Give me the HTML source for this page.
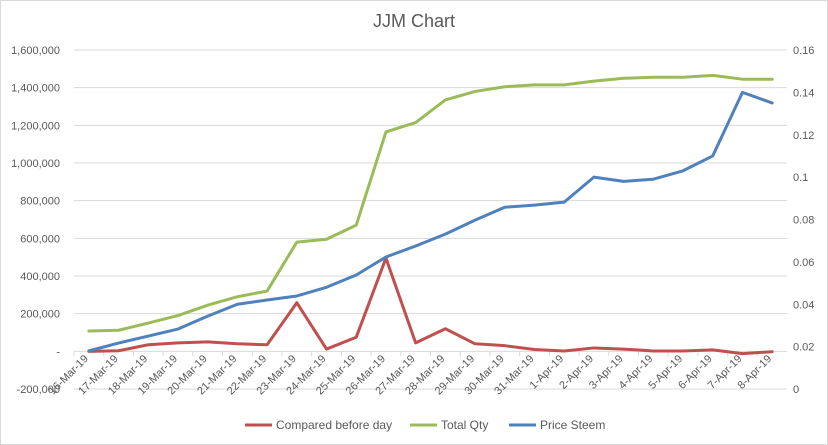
<!DOCTYPE html>
<html><head><meta charset="utf-8"><style>
body{margin:0;background:#fff;}
svg{display:block;font-family:"Liberation Sans",Arial,sans-serif;}
</style></head><body>
<svg id="c" width="828" height="445">
<rect x="0.5" y="0.5" width="827" height="444" fill="#fff" stroke="#d9d9d9"/>
<text x="414" y="27" text-anchor="middle" font-size="18" fill="#595959">JJM Chart</text>
<g id="grid"></g><g id="axes"></g><g id="series"></g>
<g font-size="12" fill="#595959">
<g><line x1="245" y1="425" x2="272" y2="425" stroke="#c0504d" stroke-width="3"/><text x="276" y="429">Compared before day</text></g>
<g><line x1="410" y1="425" x2="437" y2="425" stroke="#9bbb59" stroke-width="3"/><text x="441" y="429">Total Qty</text></g>
<g><line x1="509" y1="425" x2="536" y2="425" stroke="#4f81bd" stroke-width="3"/><text x="540" y="429">Price Steem</text></g>
</g>
</svg>
<script>
const categories=["16-Mar-19","17-Mar-19","18-Mar-19","19-Mar-19","20-Mar-19","21-Mar-19","22-Mar-19","23-Mar-19","24-Mar-19","25-Mar-19","26-Mar-19","27-Mar-19","28-Mar-19","29-Mar-19","30-Mar-19","31-Mar-19","1-Apr-19","2-Apr-19","3-Apr-19","4-Apr-19","5-Apr-19","6-Apr-19","7-Apr-19","8-Apr-19"];
const compared=[0,3000,35000,45000,50000,40000,35000,258000,12000,75000,495000,45000,120000,40000,30000,10000,2000,18000,12000,2000,2000,8000,-12000,-2000];
const totalQty=[108000,112000,150000,190000,245000,290000,320000,580000,595000,670000,1165000,1215000,1335000,1380000,1405000,1415000,1415000,1435000,1450000,1455000,1455000,1465000,1445000,1445000];
const price=[0.018,0.0217,0.025,0.0283,0.0344,0.04,0.042,0.0439,0.048,0.0538,0.0623,0.0675,0.0731,0.0797,0.0858,0.0868,0.0882,0.1,0.098,0.099,0.103,0.11,0.14,0.135];
const leftTicks=[-200000,0,200000,400000,600000,800000,1000000,1200000,1400000,1600000];
const rightTicks=[0,0.02,0.04,0.06,0.08,0.1,0.12,0.14,0.16];
const NS="http://www.w3.org/2000/svg";
const X0=74,X1=787,YT=50,YB=389;
const step=(X1-X0)/categories.length;
const xs=i=>X0+step*(i+0.5);
const yL=v=>YB-(v+200000)/1800000*(YB-YT);
const yR=v=>YB-v/0.16*(YB-YT);
function mk(tag,attrs,parent){const e=document.createElementNS(NS,tag);for(const k in attrs)e.setAttribute(k,attrs[k]);parent.appendChild(e);return e;}
const grid=document.getElementById('grid'),axes=document.getElementById('axes'),ser=document.getElementById('series');
leftTicks.forEach((v,i)=>{
  if(v!==0){const l=mk('line',{x1:X0,x2:X1,y1:yL(v),y2:yL(v),stroke:'#d9d9d9'},grid);
  
  }
  const t=mk('text',{x:60,y:yL(v)+4,'text-anchor':'end','font-size':11,fill:'#595959'},axes);
  t.textContent=v===0?'-':v.toLocaleString('en-US');
  
  
});
rightTicks.forEach(v=>{
  const t=mk('text',{x:793,y:yR(v)+4,'font-size':11,fill:'#595959'},axes);
  t.textContent=String(v);
  
  
});
const y0=yL(0);
const ax=mk('line',{x1:X0,x2:X1,y1:y0,y2:y0,stroke:'#d9d9d9'},axes);


categories.forEach((c,i)=>{
  const tk=mk('line',{x1:X0+step*i,x2:X0+step*i,y1:y0,y2:y0+5,stroke:'#d9d9d9'},axes);
  
  
  const x=xs(i),y=y0+8;
  const t=mk('text',{x:x,y:y,'text-anchor':'end','font-size':11,fill:'#595959',transform:`rotate(-45 ${x} ${y})`},axes);
  t.textContent=c;
  
  
});
function line(arr,fy,color,name){
  const p=mk('polyline',{points:arr.map((v,i)=>xs(i)+','+fy(v)).join(' '),fill:'none',stroke:color,'stroke-width':3,'stroke-linejoin':'round','stroke-linecap':'round'},ser);
  
  
}
line(compared,yL,'#c0504d','series-compared-before-day');
line(totalQty,yL,'#9bbb59','series-total-qty');
line(price,yR,'#4f81bd','series-price-steem');
</script>
</body></html>
